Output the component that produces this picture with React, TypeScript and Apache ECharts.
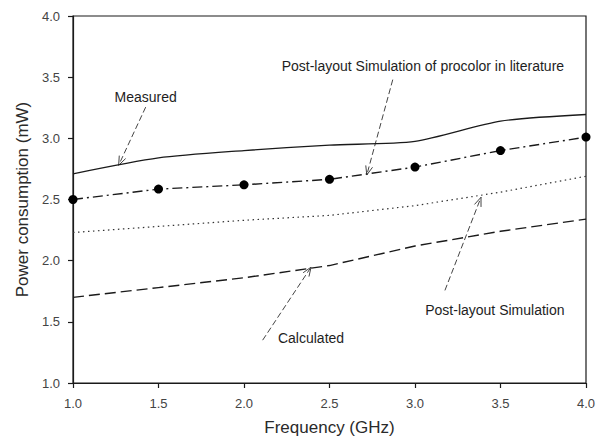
import React, { useEffect, useRef } from "react";
import * as echarts from "echarts";

const FREQ = [1.0, 1.5, 2.0, 2.5, 3.0, 3.5, 4.0];
const MEASURED = [2.71, 2.84, 2.9, 2.945, 2.975, 3.14, 3.195];
const LITERATURE = [2.5, 2.585, 2.62, 2.665, 2.765, 2.9, 3.01];
const POST_LAYOUT = [2.23, 2.28, 2.33, 2.37, 2.45, 2.56, 2.69];
const CALCULATED = [1.7, 1.78, 1.86, 1.96, 2.12, 2.24, 2.34];

// annotation texts and arrow positions in data units
const NOTES = [
  { text: "Measured", at: [1.425, 3.34], from: [1.425, 3.255], to: [1.267, 2.78] },
  { text: "Post-layout Simulation of procolor in literature", at: [3.046, 3.59], from: [2.87, 3.48], to: [2.718, 2.7] },
  { text: "Post-layout Simulation", at: [3.467, 1.594], from: [3.175, 1.757], to: [3.386, 2.518] },
  { text: "Calculated", at: [2.392, 1.365], from: [2.109, 1.35], to: [2.392, 1.947] },
];

const FONT = "'Liberation Sans', Arial, Helvetica, sans-serif";
const INK = "#1a1a1a";
const TXT = "#2a2a2a";

const pairs = (ys: number[]) => FREQ.map((x, i) => [x, ys[i]]);

export default function App() {
  const ref = useRef<HTMLDivElement>(null);
  useEffect(() => {
    if (!ref.current) return;
    const chart = echarts.init(ref.current, null, { renderer: "svg" });
    const axisCommon = {
      type: "value" as const,
      min: 1,
      max: 4,
      interval: 0.5,
      splitLine: { show: false },
      axisLine: { show: true, lineStyle: { color: INK, width: 1.2 } },
      axisTick: { show: true, inside: false, length: 5, lineStyle: { color: INK, width: 1.2 } },
      nameTextStyle: { color: TXT, fontFamily: FONT, fontSize: 17 },
    };
    chart.setOption({
      animation: false,
      backgroundColor: "#ffffff",
      grid: {
        left: 73,
        right: 10,
        top: 16,
        bottom: 54,
        containLabel: false,
        outerBoundsMode: "none",
        show: true,
        borderColor: INK,
        borderWidth: 1.2,
        backgroundColor: "transparent",
      },
      xAxis: {
        ...axisCommon,
        name: "Frequency (GHz)",
        nameLocation: "middle",
        nameGap: 36,
        axisLabel: { color: "#444", fontFamily: FONT, fontSize: 13, margin: 14, formatter: (v: number) => v.toFixed(1) },
      },
      yAxis: {
        ...axisCommon,
        name: "Power consumption (mW)",
        nameLocation: "middle",
        nameGap: 42,
        axisLabel: { color: "#444", fontFamily: FONT, fontSize: 13, margin: 13, formatter: (v: number) => v.toFixed(1) },
      },
      series: [
        {
          name: "Measured",
          type: "line",
          data: pairs(MEASURED),
          smooth: 0.25,
          showSymbol: false,
          lineStyle: { color: INK, width: 1.3, type: "solid" },
        },
        {
          name: "Literature",
          type: "line",
          data: pairs(LITERATURE),
          symbol: "circle",
          symbolSize: 9,
          itemStyle: { color: "#000" },
          lineStyle: { color: INK, width: 1.4, type: [10, 4, 2, 4] },
        },
        {
          name: "Post-layout Simulation",
          type: "line",
          data: pairs(POST_LAYOUT),
          showSymbol: false,
          lineStyle: { color: "#333", width: 1.2, type: [1.5, 3.5] },
        },
        {
          name: "Calculated",
          type: "line",
          data: pairs(CALCULATED),
          showSymbol: false,
          lineStyle: { color: INK, width: 1.4, type: [11, 5] },
        },
      ],
    });

    const px = (p: number[]) => chart.convertToPixel({ gridIndex: 0 }, p) as number[];
    const elements: any[] = [];
    NOTES.forEach((n) => {
      const a = px(n.from);
      const b = px(n.to);
      const c = px(n.at);
      const dx = b[0] - a[0];
      const dy = b[1] - a[1];
      const len = Math.sqrt(dx * dx + dy * dy);
      const ux = dx / len;
      const uy = dy / len;
      const back = 9;
      const half = 3.5;
      const p1 = [b[0] - ux * back - uy * half, b[1] - uy * back + ux * half];
      const p2 = [b[0] - ux * back + uy * half, b[1] - uy * back - ux * half];
      elements.push({
        type: "line",
        shape: { x1: a[0], y1: a[1], x2: b[0], y2: b[1] },
        style: { stroke: "#444", lineWidth: 1, lineDash: [6, 3] },
        silent: true,
      });
      elements.push({
        type: "polyline",
        shape: { points: [p1, b, p2] },
        style: { stroke: "#444", lineWidth: 1, fill: null },
        silent: true,
      });
      elements.push({
        type: "text",
        x: c[0],
        y: c[1],
        style: { text: n.text, fill: "#1e1e1e", font: `14px ${FONT}`, align: "center", verticalAlign: "middle" },
        silent: true,
      });
    });
    chart.setOption({ graphic: elements });

    return () => chart.dispose();
  }, []);
  return <div ref={ref} style={{ width: 596, height: 437, position: "absolute", left: 0, top: 0 }} />;
}
